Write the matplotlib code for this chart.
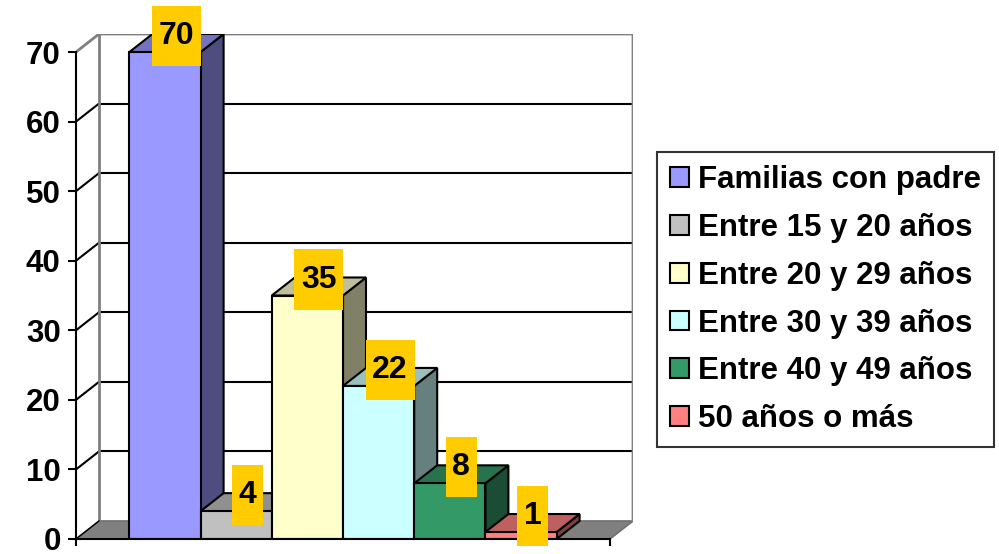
import matplotlib
matplotlib.use("Agg")
import matplotlib.pyplot as plt
from matplotlib.patches import Polygon, Rectangle, Patch
from matplotlib.colors import to_rgb

plt.rcParams['font.family'] = ['Liberation Sans', 'DejaVu Sans']
plt.rcParams['font.weight'] = 'bold'

series = ["Familias con padre", "Entre 15 y 20 años", "Entre 20 y 29 años",
          "Entre 30 y 39 años", "Entre 40 y 49 años", "50 años o más"]
values = [70, 4, 35, 22, 8, 1]
colors = ["#9999FF", "#C0C0C0", "#FFFFCC", "#CCFFFF", "#339966", "#FF8080"]
yticks = [0, 10, 20, 30, 40, 50, 60, 70]

# oblique depth of the 3D box, in data units
ddx, ddy = 0.323, 2.59
x0, x1 = -1.25, len(values) - 1 + 1.25
ymax = 70


def shade(c, k):
    r, g, b = to_rgb(c)
    return (r * k, g * k, b * k)


fig = plt.figure(figsize=(9.99, 5.54), dpi=100)
ax = fig.add_axes([76 / 999, 15 / 554, 557 / 999, 505 / 554])
ax.set_xlim(x0, x1 + ddx)
ax.set_ylim(0, ymax + ddy)
ax.patch.set_visible(False)

# floor
ax.add_patch(Polygon([(x0, 0), (x1, 0), (x1 + ddx, ddy), (x0 + ddx, ddy)],
                     closed=True, facecolor="#808080", edgecolor="#707070",
                     lw=1.2, zorder=1))

# gridlines on the back wall and the side wall
for v in yticks[1:-1]:
    ax.plot([x0 + ddx, x1 + ddx], [v + ddy, v + ddy], color="black", lw=1.5, zorder=1)
    ax.plot([x0, x0 + ddx], [v, v + ddy], color="black", lw=1.5, zorder=1)

# wall outline
ax.plot([x0, x0 + ddx, x1 + ddx, x1 + ddx], [ymax, ymax + ddy, ymax + ddy, ddy],
        color="#808080", lw=2, zorder=1)
ax.plot([x0 + ddx, x0 + ddx], [ddy, ymax + ddy], color="#808080", lw=2, zorder=1)
ax.plot([x0, x0 + ddx], [0, ddy], color="black", lw=1, zorder=1.2)

# columns, drawn left to right so each one covers its neighbour's side
for i, (v, c) in enumerate(zip(values, colors)):
    z = 3 + i
    l, r = i - 0.5, i + 0.5
    ax.add_patch(Polygon([(r, 0), (r + ddx, ddy), (r + ddx, v + ddy), (r, v)],
                         closed=True, facecolor=shade(c, 0.5), edgecolor="black",
                         lw=1.5, zorder=z))
    ax.add_patch(Polygon([(l, v), (r, v), (r + ddx, v + ddy), (l + ddx, v + ddy)],
                         closed=True, facecolor=shade(c, 0.75), edgecolor="black",
                         lw=1.5, zorder=z))
    ax.bar(i, v, width=1, color=c, edgecolor="black", lw=1.5, zorder=z)

# value labels on gold boxes
px_x = 557 / (x1 + ddx - x0)
px_y = 505 / (ymax + ddy)
for i, v in enumerate(values):
    txt = str(v)
    cx = i + ddx / 2
    cy = v + ddy / 2 + 7 / px_y
    w = (14 + 17.5 * len(txt)) / px_x
    h = 60 / px_y
    ax.add_patch(Rectangle((cx - w / 2, cy - h / 2), w, h, facecolor="#FFCC00",
                           edgecolor="none", zorder=20, clip_on=False))
    ax.text(cx, cy, txt, ha="center", va="center", fontsize=23,
            fontweight="bold", zorder=21, clip_on=False)

# axes
for s in ("top", "right"):
    ax.spines[s].set_visible(False)
ax.spines["left"].set_bounds(0, ymax)
ax.spines["bottom"].set_bounds(x0, x1)
for s in ("left", "bottom"):
    ax.spines[s].set_linewidth(1.5)
    ax.spines[s].set_zorder(15)
ax.set_yticks(yticks)
ax.set_xticks([x0, x1])
ax.set_xticklabels([])
ax.tick_params(axis="y", length=6, width=1.5, pad=5, labelsize=22.5)
ax.tick_params(axis="x", length=5, width=1.5)

handles = [Patch(facecolor=c, edgecolor="black", lw=1.5) for c in colors]
leg = fig.legend(handles, series, loc="upper left",
                 bbox_to_anchor=(657 / 999, 1 - 152 / 554), borderaxespad=0,
                 fontsize=22.5, frameon=True, fancybox=False, edgecolor="black",
                 handlelength=0.6, handleheight=0.6, handletextpad=0.3,
                 labelspacing=0.57, borderpad=0.42)
leg.get_frame().set_linewidth(1.5)
for t in leg.get_texts():
    t.set_fontweight("bold")

fig.savefig("out.png", dpi=100)
